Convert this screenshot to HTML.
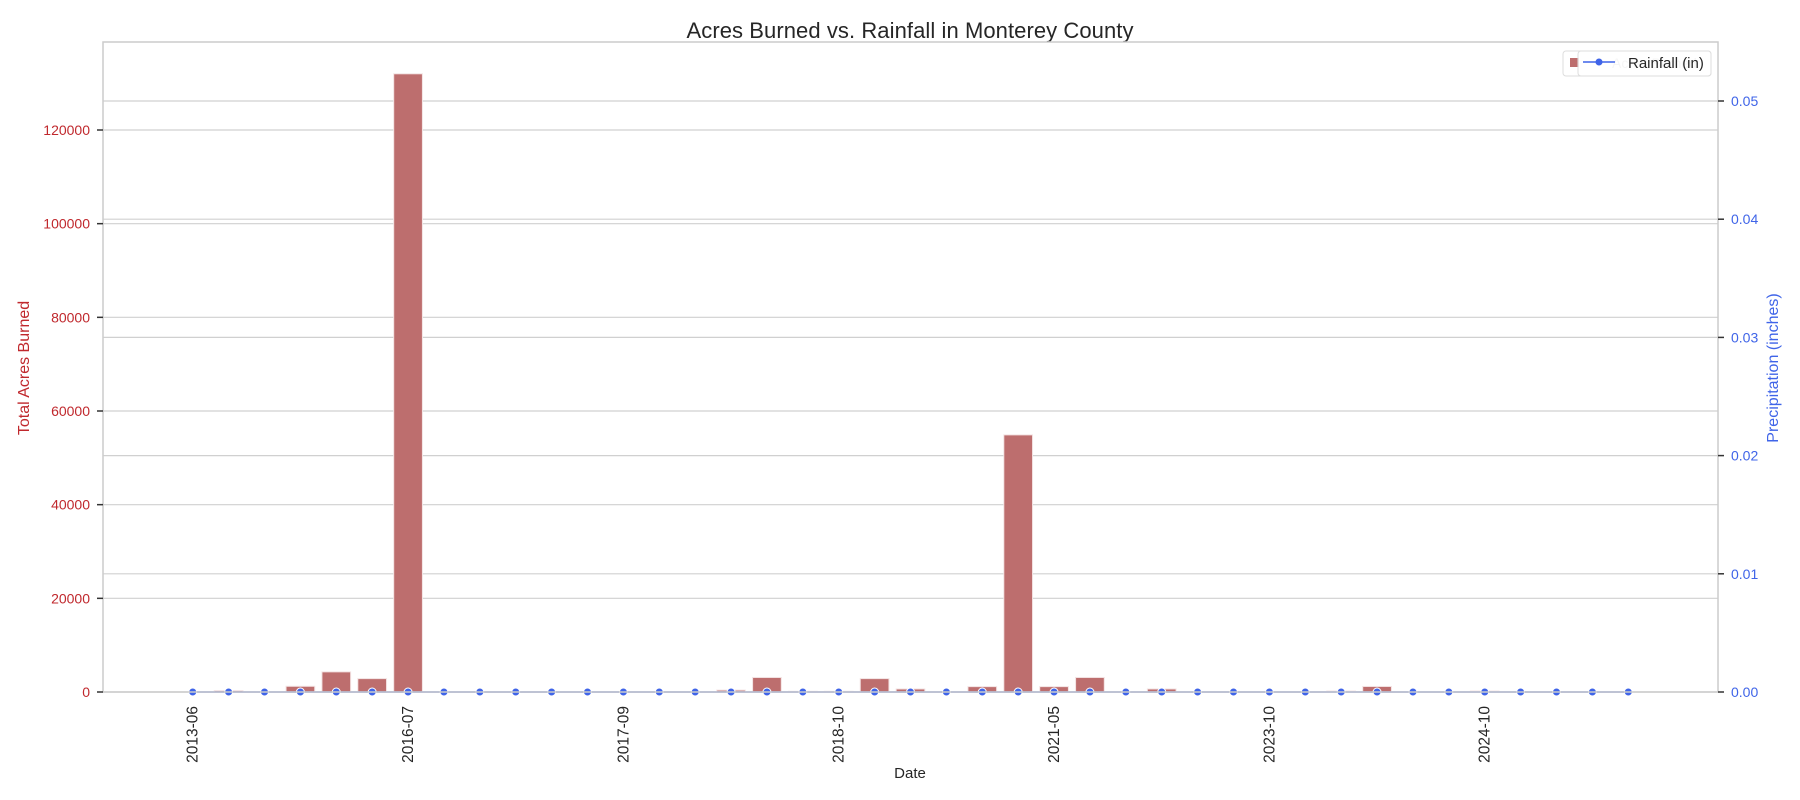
<!DOCTYPE html>
<html><head><meta charset="utf-8"><style>
html,body{margin:0;padding:0;background:#fff;}
svg{display:block;font-family:"Liberation Sans",Arial,sans-serif;}
</style></head><body>
<svg id="chart" width="1800" height="800" viewBox="0 0 1800 800" xmlns="http://www.w3.org/2000/svg">
<text x="910" y="38" font-size="22" fill="#262626" text-anchor="middle" textLength="447">Acres Burned vs. Rainfall in Monterey County</text>
<g id="grid"></g>
<g id="bars"></g>
<g id="line"></g>
<rect x="103" y="42" width="1615" height="650" fill="none" stroke="#cccccc" stroke-width="1.5"/>
<g id="leftAxis"></g>
<g id="rightAxis"></g>
<g id="xAxis"></g>
<text transform="translate(29,368) rotate(-90)" font-size="16" fill="#c0282d" text-anchor="middle">Total Acres Burned</text>
<text transform="translate(1778,368) rotate(-90)" font-size="16" fill="#3f64e8" text-anchor="middle">Precipitation (inches)</text>
<text x="910" y="778" font-size="15" fill="#262626" text-anchor="middle">Date</text>
<g>
<rect x="1563" y="51" width="148" height="25" rx="3" fill="#fff" stroke="#dddddd"/>
<rect x="1570" y="58" width="9" height="9" fill="#bd6e6e"/>
<text x="1612" y="68" font-size="14" fill="#cccccc">Acres Burned</text>
<rect x="1578" y="51" width="133" height="25" rx="3" fill="#fff" fill-opacity="0.8" stroke="#dddddd"/>
<line x1="1583" y1="62" x2="1615" y2="62" stroke="#3f64e8" stroke-width="1.5"/>
<circle cx="1599" cy="62" r="3.5" fill="#3f64e8"/>
<text x="1628" y="68" font-size="15" fill="#262626">Rainfall (in)</text>
</g>
</svg>
<script>
const acres = [0,0,0,300,0,1220,4300,2860,132000,0,0,0,0,0,0,0,0,400,3100,150,150,2860,650,0,1150,54900,1150,3100,0,650,0,0,0,0,200,1180,0,0,200,0,0,0,0,0,0];
const rainfallIdx = [2,3,4,5,6,7,8,9,10,11,12,13,14,15,16,17,18,19,20,21,22,23,24,25,26,27,28,29,30,31,32,33,34,35,36,37,38,39,40,41,42];
const rainfall = [0,0,0,0,0,0,0,0,0,0,0,0,0,0,0,0,0,0,0,0,0,0,0,0,0,0,0,0,0,0,0,0,0,0,0,0,0,0,0,0,0];
const leftTicks = [0,20000,40000,60000,80000,100000,120000];
const rightTicks = [0,0.01,0.02,0.03,0.04,0.05];
const xTickIdx = [2,8,14,20,26,32,38];
const xTickLabels = ["2013-06","2016-07","2017-09","2018-10","2021-05","2023-10","2024-10"];

const NS="http://www.w3.org/2000/svg";
const L=103,R=1718,T=42,B=692;
const n=acres.length, bw=(R-L)/n;
const xPos=i=>L+bw*(i+0.5);
const yL=v=>B-v*(562/120000);
const yR=v=>B-v*(591/0.05);
function mk(tag,attrs,parent){const e=document.createElementNS(NS,tag);for(const k in attrs)e.setAttribute(k,attrs[k]);parent.appendChild(e);return e;}
const grid=document.getElementById('grid'),bars=document.getElementById('bars'),line=document.getElementById('line');
const la=document.getElementById('leftAxis'),ra=document.getElementById('rightAxis'),xa=document.getElementById('xAxis');
leftTicks.forEach(v=>{const y=yL(v);
 const g=mk('line',{x1:L,x2:R,y1:y,y2:y,stroke:'#d0d0d0','stroke-width':1.2},grid);
 
 
 const t=mk('line',{x1:L-6,x2:L,y1:y,y2:y,stroke:'#333','stroke-width':1.5},la);
 
 
 const tx=mk('text',{x:L-13,y:y+5,'font-size':14,fill:'#c0282d','text-anchor':'end'},la);tx.textContent=v;
 
 
});
rightTicks.forEach(v=>{const y=yR(v);
 const g=mk('line',{x1:L,x2:R,y1:y,y2:y,stroke:'#d0d0d0','stroke-width':1.2},grid);
 
 
 const t=mk('line',{x1:R,x2:R+6,y1:y,y2:y,stroke:'#333','stroke-width':1.5},ra);
 
 
 const tx=mk('text',{x:R+13,y:y+5,'font-size':14,fill:'#3f64e8'},ra);tx.textContent=v.toFixed(2);
 
 
});
acres.forEach((v,i)=>{if(v<=0)return;const y=yL(v);
 const b=mk('rect',{x:xPos(i)-bw*0.4,y:y,width:bw*0.8,height:B-y,fill:'#bd6e6e',stroke:'#f3e3e3','stroke-width':1},bars);
 
 
});
const pts=rainfallIdx.map((c,k)=>xPos(c)+','+yR(rainfall[k])).join(' ');
const pl=mk('polyline',{points:pts,fill:'none',stroke:'#3f64e8','stroke-width':1.5},line);


rainfallIdx.forEach((c,k)=>{
 const p=mk('circle',{cx:xPos(c),cy:yR(rainfall[k]),r:4,fill:'#3f64e8',stroke:'#fff','stroke-width':1},line);
 
 
});
xTickIdx.forEach((c,k)=>{const x=xPos(c);
 const t=mk('text',{transform:`translate(${x+5},${B+14}) rotate(-90)`,'font-size':15.5,fill:'#262626','text-anchor':'end'},xa);
 t.textContent=xTickLabels[k];
 
 
});
</script>
</body></html>
